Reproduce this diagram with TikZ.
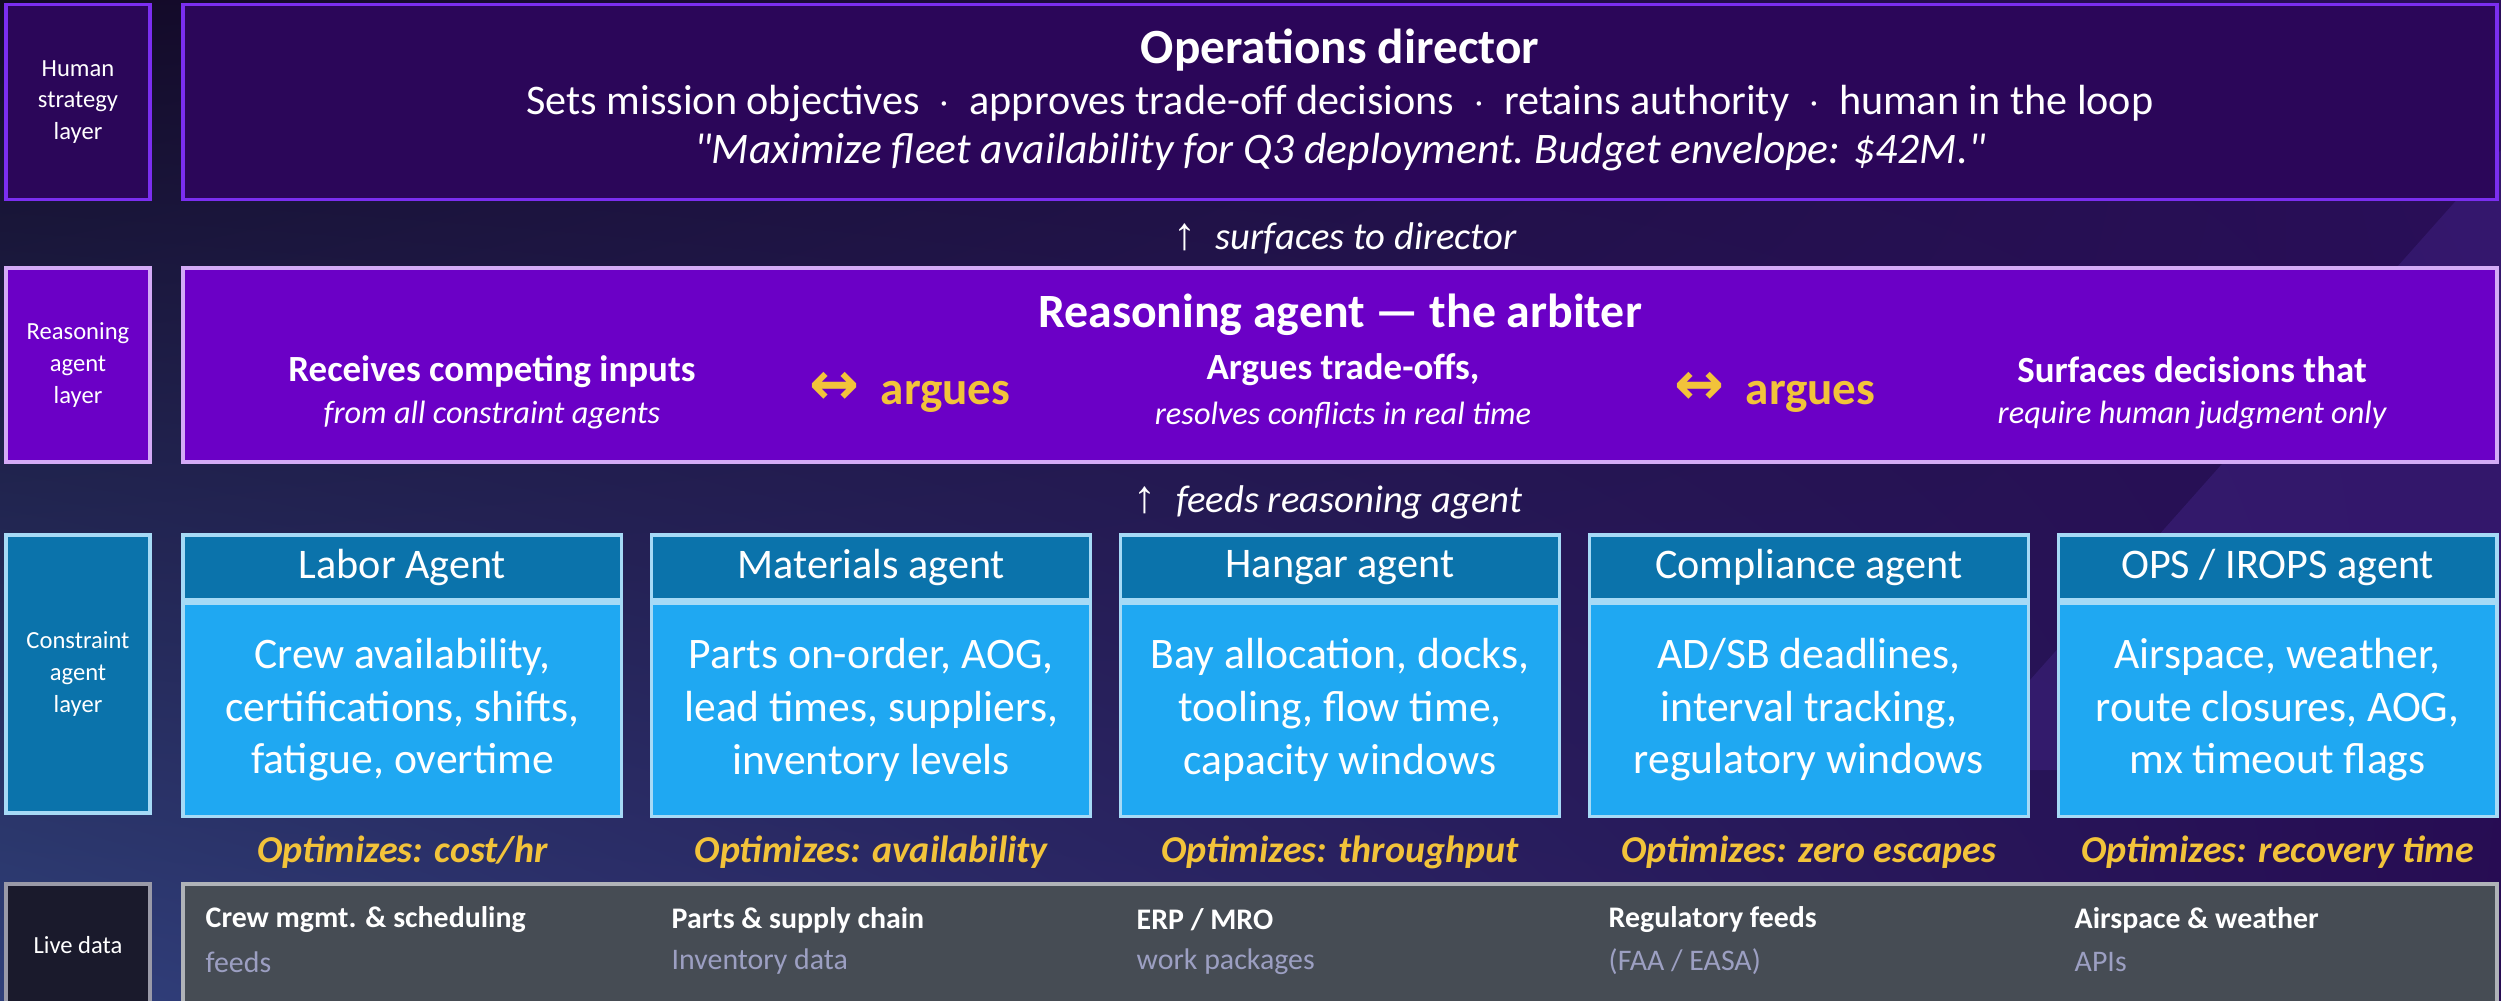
\documentclass[tikz,border=0pt]{standalone}
\usepackage{fontspec}
\setmainfont{Carlito}
\newfontfamily\plainfont{Carlito}
\newfontfamily\arrowfont{Liberation Sans}
\newfontfamily\twowayfont{DejaVu Sans}
\usetikzlibrary{positioning,shadings}

\definecolor{bgtl}{HTML}{120A26}
\definecolor{bgtr}{HTML}{2A0E5A}
\definecolor{bgbl}{HTML}{30407A}
\definecolor{bgbr}{HTML}{260C52}
\definecolor{streak}{HTML}{4A2A95}
\definecolor{dirfill}{HTML}{2B0659}
\definecolor{diredge}{HTML}{7B2EF0}
\definecolor{arbfill}{HTML}{6B00C6}
\definecolor{arbedge}{HTML}{D4AAF7}
\definecolor{hdrfill}{HTML}{0B73AB}
\definecolor{bodyfill}{HTML}{1FA8F2}
\definecolor{agentedge}{HTML}{A6DAF6}
\definecolor{feedfill}{HTML}{464C54}
\definecolor{feededge}{HTML}{B0B3B8}
\definecolor{livefill}{HTML}{1A1A2C}
\definecolor{liveedge}{HTML}{9A9AA8}
\definecolor{optyellow}{HTML}{F2C33A}
\definecolor{feedgray}{HTML}{9C9FC2}

\begin{document}
\begin{tikzpicture}[x=0.1mm, y=-0.1mm,
	box/.style={draw, line width=0.9pt, inner sep=0pt},
	layerlbl/.style={box, minimum width=14.4mm, text=white, align=center,
		font=\fontsize{7}{9}\selectfont},
	txt/.style={text=white, inner sep=0pt, align=center},
	agenthdr/.style={box, fill=hdrfill, draw=agentedge, minimum width=43.88mm,
		minimum height=6.5mm, text=white, font=\fontsize{12}{14}\selectfont},
	agentbody/.style={box, fill=bodyfill, draw=agentedge, minimum width=43.88mm,
		minimum height=21.3mm, text=white, align=center,
		font=\fontsize{12.4}{15}\selectfont},
	optim/.style={txt, text=optyellow, font=\fontsize{10.8}{13}\selectfont\bfseries\itshape},
	feedhead/.style={txt, anchor=west, font=\fontsize{8.5}{10}\selectfont\bfseries},
	feedsub/.style={txt, anchor=west, text=feedgray, font=\fontsize{8.5}{10}\selectfont},
	argue/.style={txt, text=optyellow, font=\fontsize{13.4}{15}\selectfont\bfseries},
	flow/.style={txt, font=\fontsize{11}{13}\selectfont\itshape},
	colhead/.style={txt, font=\fontsize{10.5}{12}\selectfont\bfseries},
	colsub/.style={txt, font=\fontsize{9.2}{11}\selectfont\itshape}]

	\useasboundingbox (0,0) rectangle (2501,1000);
	% background
	\shade[upper left=bgtl, upper right=bgtr, lower left=bgbl, lower right=bgbr]
		(0,0) rectangle (2501,1000);
	\fill[streak, opacity=0.35] (2501,150) -- (1950,770) -- (2501,770) -- cycle;

	% human strategy layer
	\node[layerlbl, fill=dirfill, draw=diredge, minimum height=19.5mm] (humanlbl) at (78,102) {Human\\strategy\\layer};
	\node[box, fill=dirfill, draw=diredge, minimum width=231.4mm, minimum height=19.5mm] (director) at (1340,102) {};
	\node[txt, font=\fontsize{14}{16}\selectfont\bfseries] (dirtitle) at (1340,50) {Operations director};
	\node[txt, font=\fontsize{12}{14}\selectfont] (dirroles) at (1340,103)
		{Sets mission objectives ~$\cdot$~ approves trade-off decisions ~$\cdot$~ retains authority ~$\cdot$~ human in the loop};
	\node[txt, font=\fontsize{12.4}{14}\plainfont\itshape] (dirquote) at (1340,152)
		{"Maximize fleet availability for Q3 deployment.\ Budget envelope: \$42M."};

	\node[flow] (surfaces) at (1345,238) {{\arrowfont\upshape\fontsize{13}{13}\selectfont ↑}\hspace{0.5em}surfaces to director};

	% reasoning agent layer
	\node[layerlbl, fill=arbfill, draw=arbedge, minimum height=19.4mm] (arblbl) at (78,365) {Reasoning\\agent\\layer};
	\node[box, fill=arbfill, draw=arbedge, minimum width=231.4mm, minimum height=19.4mm] (arbiter) at (1340,365) {};
	\node[txt, font=\fontsize{13.6}{16}\selectfont\bfseries] (arbtitle) at (1340,315) {Reasoning agent — the arbiter};
	\node[colhead] (receives) at (492,372) {Receives competing inputs};
	\node[colsub] (receivessub) at (492,415) {from all constraint agents};
	\node[argue] (arguesleft) at (910,392) {{\twowayfont\fontsize{17}{17}\selectfont ↔}\hspace{0.45em}argues};
	\node[colhead] (tradeoffs) at (1343,370) {Argues trade-offs,};
	\node[colsub] (tradeoffssub) at (1343,415) {resolves conflicts in real time};
	\node[argue] (arguesright) at (1775,392) {{\twowayfont\fontsize{17}{17}\selectfont ↔}\hspace{0.45em}argues};
	\node[colhead] (surfacesdec) at (2192,370) {Surfaces decisions that};
	\node[colsub] (surfacesdecsub) at (2192,415) {require human judgment only};

	\node[flow] (feeds) at (1328,502) {{\arrowfont\upshape\fontsize{13}{13}\selectfont ↑}\hspace{0.5em}feeds reasoning agent};

	% constraint agent layer
	\node[layerlbl, fill=hdrfill, draw=agentedge, minimum height=27.8mm] (conlbl) at (78,674) {Constraint\\agent\\layer};

	\node[agenthdr] (laborhdr) at (402.4,567.5) {Labor Agent};
	\node[agentbody, below=0pt of laborhdr] (laborbody) {Crew availability,\\certifications, shifts,\\fatigue, overtime};
	\node[optim] (laboropt) at (402.4,852) {Optimizes: cost/hr};

	\node[agenthdr] (materialshdr) at (871.2,567.5) {Materials agent};
	\node[agentbody, below=0pt of materialshdr] (materialsbody) {Parts on-order, AOG,\\lead times, suppliers,\\inventory levels};
	\node[optim] (materialsopt) at (871.2,852) {Optimizes: availability};

	\node[agenthdr] (hangarhdr) at (1340,567.5) {Hangar agent};
	\node[agentbody, below=0pt of hangarhdr] (hangarbody) {Bay allocation, docks,\\tooling, flow time,\\capacity windows};
	\node[optim] (hangaropt) at (1340,852) {Optimizes: throughput};

	\node[agenthdr] (compliancehdr) at (1808.8,567.5) {Compliance agent};
	\node[agentbody, below=0pt of compliancehdr] (compliancebody) {AD/SB deadlines,\\interval tracking,\\regulatory windows};
	\node[optim] (complianceopt) at (1808.8,852) {Optimizes: zero escapes};

	\node[agenthdr] (opshdr) at (2277.6,567.5) {OPS / IROPS agent};
	\node[agentbody, below=0pt of opshdr] (opsbody) {Airspace, weather,\\route closures, AOG,\\mx timeout flags};
	\node[optim] (opsopt) at (2277.6,852) {Optimizes: recovery time};

	% live data
	\node[layerlbl, fill=livefill, draw=liveedge, minimum height=12.2mm] (livelbl) at (78,945) {Live data};
	\node[box, fill=feedfill, draw=feededge, minimum width=231.4mm, minimum height=12.2mm] (livedata) at (1340,945) {};
	\node[feedhead] (crewfeed) at (205,920) {Crew mgmt. \& scheduling};
	\node[feedsub] (crewsub) at (205,962) {feeds};
	\node[feedhead] (partsfeed) at (671,920) {Parts \& supply chain};
	\node[feedsub] (partssub) at (671,962) {Inventory data};
	\node[feedhead] (erpfeed) at (1136,920) {ERP / MRO};
	\node[feedsub] (erpsub) at (1136,962) {work packages};
	\node[feedhead] (regfeed) at (1608,920) {Regulatory feeds};
	\node[feedsub] (regsub) at (1608,962) {(FAA / EASA)};
	\node[feedhead] (airfeed) at (2074,920) {Airspace \& weather};
	\node[feedsub] (airsub) at (2074,962) {APIs};
\end{tikzpicture}
\end{document}
